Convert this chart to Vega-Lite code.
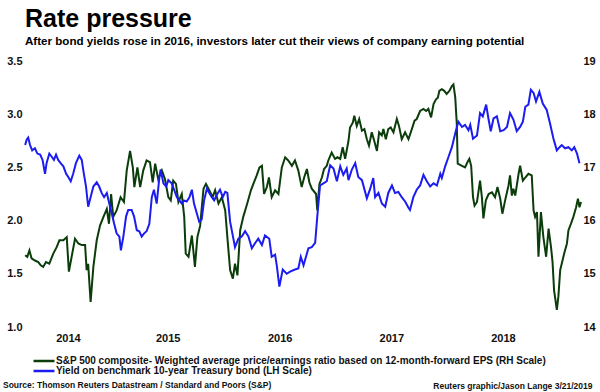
{
  "$schema": "https://vega.github.io/schema/vega-lite/v6.json",
  "width": 558,
  "height": 266,
  "autosize": "none",
  "padding": {"left": 23, "top": 61, "right": 19, "bottom": 65},
  "background": "white",
  "config": {"view": {"stroke": null}, "font": "Liberation Sans"},
  "title": {
    "text": "Rate pressure",
    "subtitle": "After bond yields rose in 2016, investors later cut their views of company earning potential",
    "anchor": "start",
    "frame": "group",
    "font": "Liberation Sans",
    "fontSize": 25,
    "fontWeight": "bold",
    "color": "#000000",
    "subtitleFont": "Liberation Sans",
    "subtitleFontSize": 11.6,
    "subtitleFontWeight": "bold",
    "subtitleColor": "#000000",
    "subtitlePadding": 4,
    "offset": 7,
    "dx": 2
  },
  "datasets": {
    "pe": [
      {"date": "2014-03-23", "value": 15.35}, {"date": "2014-03-30", "value": 15.32}, {"date": "2014-04-06", "value": 15.44},
      {"date": "2014-04-13", "value": 15.29}, {"date": "2014-04-24", "value": 15.25}, {"date": "2014-05-05", "value": 15.22},
      {"date": "2014-05-13", "value": 15.16}, {"date": "2014-05-21", "value": 15.13}, {"date": "2014-05-30", "value": 15.22},
      {"date": "2014-06-10", "value": 15.19}, {"date": "2014-06-23", "value": 15.38}, {"date": "2014-07-04", "value": 15.50},
      {"date": "2014-07-13", "value": 15.63}, {"date": "2014-07-26", "value": 15.63}, {"date": "2014-08-06", "value": 15.69},
      {"date": "2014-08-13", "value": 15.04}, {"date": "2014-08-22", "value": 15.32}, {"date": "2014-09-02", "value": 15.66},
      {"date": "2014-09-13", "value": 15.57}, {"date": "2014-09-24", "value": 15.54}, {"date": "2014-10-05", "value": 15.54},
      {"date": "2014-10-10", "value": 15.07}, {"date": "2014-10-15", "value": 15.19}, {"date": "2014-10-23", "value": 14.47},
      {"date": "2014-11-01", "value": 15.13}, {"date": "2014-11-12", "value": 15.63}, {"date": "2014-11-23", "value": 15.91},
      {"date": "2014-12-04", "value": 16.07}, {"date": "2014-12-15", "value": 16.22}, {"date": "2014-12-22", "value": 15.94},
      {"date": "2014-12-29", "value": 16.50}, {"date": "2015-01-05", "value": 16.07}, {"date": "2015-01-16", "value": 16.19},
      {"date": "2015-01-29", "value": 16.44}, {"date": "2015-02-09", "value": 16.35}, {"date": "2015-02-18", "value": 16.94},
      {"date": "2015-03-01", "value": 17.31}, {"date": "2015-03-10", "value": 17.00}, {"date": "2015-03-15", "value": 16.63},
      {"date": "2015-03-25", "value": 17.00}, {"date": "2015-04-03", "value": 16.63}, {"date": "2015-04-13", "value": 16.94},
      {"date": "2015-04-24", "value": 17.13}, {"date": "2015-05-05", "value": 17.10}, {"date": "2015-05-14", "value": 16.72},
      {"date": "2015-05-22", "value": 17.07}, {"date": "2015-06-01", "value": 16.78}, {"date": "2015-06-13", "value": 16.94},
      {"date": "2015-06-23", "value": 16.78}, {"date": "2015-07-04", "value": 16.44}, {"date": "2015-07-12", "value": 16.38},
      {"date": "2015-07-20", "value": 16.75}, {"date": "2015-07-29", "value": 16.69}, {"date": "2015-08-06", "value": 16.35},
      {"date": "2015-08-17", "value": 16.50}, {"date": "2015-08-25", "value": 16.07}, {"date": "2015-08-30", "value": 15.38},
      {"date": "2015-09-08", "value": 15.32}, {"date": "2015-09-19", "value": 15.72}, {"date": "2015-09-29", "value": 15.13},
      {"date": "2015-10-07", "value": 15.69}, {"date": "2015-10-16", "value": 15.90}, {"date": "2015-10-27", "value": 16.60},
      {"date": "2015-11-04", "value": 16.69}, {"date": "2015-11-15", "value": 16.57}, {"date": "2015-11-26", "value": 16.44},
      {"date": "2015-12-04", "value": 16.57}, {"date": "2015-12-15", "value": 16.32}, {"date": "2015-12-26", "value": 16.44},
      {"date": "2016-01-06", "value": 16.19}, {"date": "2016-01-13", "value": 15.69}, {"date": "2016-01-22", "value": 15.07},
      {"date": "2016-01-31", "value": 14.91}, {"date": "2016-02-07", "value": 15.19}, {"date": "2016-02-15", "value": 14.97},
      {"date": "2016-02-24", "value": 15.82}, {"date": "2016-03-05", "value": 16.07}, {"date": "2016-03-18", "value": 16.32},
      {"date": "2016-03-30", "value": 16.57}, {"date": "2016-04-07", "value": 16.69}, {"date": "2016-04-18", "value": 16.85},
      {"date": "2016-04-27", "value": 17.00}, {"date": "2016-05-05", "value": 17.03}, {"date": "2016-05-12", "value": 16.50},
      {"date": "2016-05-21", "value": 16.63}, {"date": "2016-05-28", "value": 16.81}, {"date": "2016-06-06", "value": 16.44},
      {"date": "2016-06-17", "value": 16.57}, {"date": "2016-06-28", "value": 16.50}, {"date": "2016-07-09", "value": 17.00},
      {"date": "2016-07-20", "value": 17.19}, {"date": "2016-07-30", "value": 17.13}, {"date": "2016-08-11", "value": 17.03},
      {"date": "2016-08-21", "value": 17.13}, {"date": "2016-09-01", "value": 16.94}, {"date": "2016-09-12", "value": 16.63},
      {"date": "2016-09-20", "value": 16.81}, {"date": "2016-09-29", "value": 16.97}, {"date": "2016-10-07", "value": 16.72},
      {"date": "2016-10-15", "value": 16.60}, {"date": "2016-10-29", "value": 16.50}, {"date": "2016-11-02", "value": 16.19},
      {"date": "2016-11-09", "value": 16.69}, {"date": "2016-11-17", "value": 16.81}, {"date": "2016-11-24", "value": 16.97},
      {"date": "2016-12-03", "value": 17.03}, {"date": "2016-12-08", "value": 17.13}, {"date": "2016-12-19", "value": 17.28},
      {"date": "2016-12-30", "value": 17.16}, {"date": "2017-01-07", "value": 17.19}, {"date": "2017-01-16", "value": 17.16},
      {"date": "2017-01-24", "value": 17.38}, {"date": "2017-02-01", "value": 17.16}, {"date": "2017-02-12", "value": 17.50},
      {"date": "2017-02-17", "value": 17.75}, {"date": "2017-02-26", "value": 17.84}, {"date": "2017-03-03", "value": 17.97},
      {"date": "2017-03-11", "value": 17.78}, {"date": "2017-03-19", "value": 17.91}, {"date": "2017-03-28", "value": 17.69},
      {"date": "2017-04-05", "value": 17.72}, {"date": "2017-04-13", "value": 17.53}, {"date": "2017-04-20", "value": 17.41},
      {"date": "2017-04-29", "value": 17.66}, {"date": "2017-05-07", "value": 17.50}, {"date": "2017-05-16", "value": 17.31},
      {"date": "2017-05-23", "value": 17.66}, {"date": "2017-06-01", "value": 17.60}, {"date": "2017-06-06", "value": 17.72},
      {"date": "2017-06-14", "value": 17.53}, {"date": "2017-06-22", "value": 17.72}, {"date": "2017-06-30", "value": 17.75},
      {"date": "2017-07-09", "value": 17.66}, {"date": "2017-07-20", "value": 17.91}, {"date": "2017-07-27", "value": 17.78},
      {"date": "2017-08-05", "value": 17.53}, {"date": "2017-08-16", "value": 17.66}, {"date": "2017-08-27", "value": 17.53},
      {"date": "2017-09-07", "value": 17.72}, {"date": "2017-09-16", "value": 17.88}, {"date": "2017-09-23", "value": 17.91},
      {"date": "2017-10-04", "value": 18.06}, {"date": "2017-10-15", "value": 18.10}, {"date": "2017-10-24", "value": 18.06},
      {"date": "2017-10-31", "value": 18.10}, {"date": "2017-11-09", "value": 17.94}, {"date": "2017-11-17", "value": 18.19},
      {"date": "2017-11-25", "value": 18.28}, {"date": "2017-12-01", "value": 18.31}, {"date": "2017-12-06", "value": 18.44},
      {"date": "2017-12-14", "value": 18.47}, {"date": "2017-12-22", "value": 18.44}, {"date": "2017-12-30", "value": 18.38},
      {"date": "2018-01-08", "value": 18.44}, {"date": "2018-01-16", "value": 18.53}, {"date": "2018-01-21", "value": 18.56},
      {"date": "2018-01-27", "value": 18.31}, {"date": "2018-02-01", "value": 17.81}, {"date": "2018-02-04", "value": 17.07},
      {"date": "2018-02-18", "value": 17.03}, {"date": "2018-02-28", "value": 17.00}, {"date": "2018-03-08", "value": 17.10},
      {"date": "2018-03-14", "value": 17.16}, {"date": "2018-03-20", "value": 17.03}, {"date": "2018-03-26", "value": 16.44},
      {"date": "2018-03-31", "value": 16.28}, {"date": "2018-04-08", "value": 16.35}, {"date": "2018-04-18", "value": 16.75},
      {"date": "2018-04-24", "value": 16.44}, {"date": "2018-04-29", "value": 16.04}, {"date": "2018-05-07", "value": 16.38},
      {"date": "2018-05-16", "value": 16.50}, {"date": "2018-05-27", "value": 16.53}, {"date": "2018-06-06", "value": 16.44},
      {"date": "2018-06-14", "value": 16.63}, {"date": "2018-06-23", "value": 16.41}, {"date": "2018-06-30", "value": 16.13},
      {"date": "2018-07-09", "value": 16.38}, {"date": "2018-07-20", "value": 16.66}, {"date": "2018-07-25", "value": 16.85},
      {"date": "2018-07-31", "value": 16.47}, {"date": "2018-08-05", "value": 16.60}, {"date": "2018-08-11", "value": 16.47},
      {"date": "2018-08-22", "value": 16.88}, {"date": "2018-08-27", "value": 17.03}, {"date": "2018-09-05", "value": 16.75},
      {"date": "2018-09-13", "value": 16.81}, {"date": "2018-09-23", "value": 16.88}, {"date": "2018-10-04", "value": 16.85},
      {"date": "2018-10-10", "value": 16.19}, {"date": "2018-10-15", "value": 16.07}, {"date": "2018-10-21", "value": 16.16},
      {"date": "2018-10-26", "value": 15.32}, {"date": "2018-11-03", "value": 16.16}, {"date": "2018-11-11", "value": 15.69},
      {"date": "2018-11-20", "value": 15.32}, {"date": "2018-11-28", "value": 15.85}, {"date": "2018-12-06", "value": 15.50},
      {"date": "2018-12-11", "value": 15.22}, {"date": "2018-12-16", "value": 14.69}, {"date": "2018-12-25", "value": 14.32},
      {"date": "2018-12-30", "value": 14.57}, {"date": "2019-01-05", "value": 15.07}, {"date": "2019-01-10", "value": 15.19},
      {"date": "2019-01-18", "value": 15.38}, {"date": "2019-01-27", "value": 15.57}, {"date": "2019-02-01", "value": 15.82},
      {"date": "2019-02-09", "value": 15.94}, {"date": "2019-02-17", "value": 16.07}, {"date": "2019-02-26", "value": 16.25},
      {"date": "2019-03-04", "value": 16.41}, {"date": "2019-03-09", "value": 16.25}, {"date": "2019-03-14", "value": 16.35}
    ],
    "yield": [
      {"date": "2014-03-23", "value": 2.71}, {"date": "2014-03-28", "value": 2.76}, {"date": "2014-04-02", "value": 2.78},
      {"date": "2014-04-08", "value": 2.71}, {"date": "2014-04-15", "value": 2.66}, {"date": "2014-04-24", "value": 2.68},
      {"date": "2014-05-02", "value": 2.63}, {"date": "2014-05-11", "value": 2.62}, {"date": "2014-05-19", "value": 2.57},
      {"date": "2014-05-27", "value": 2.44}, {"date": "2014-06-01", "value": 2.54}, {"date": "2014-06-10", "value": 2.63},
      {"date": "2014-06-18", "value": 2.60}, {"date": "2014-06-25", "value": 2.57}, {"date": "2014-07-02", "value": 2.62},
      {"date": "2014-07-09", "value": 2.57}, {"date": "2014-07-17", "value": 2.54}, {"date": "2014-07-26", "value": 2.51},
      {"date": "2014-08-04", "value": 2.44}, {"date": "2014-08-11", "value": 2.41}, {"date": "2014-08-19", "value": 2.37},
      {"date": "2014-08-27", "value": 2.44}, {"date": "2014-09-05", "value": 2.54}, {"date": "2014-09-16", "value": 2.61},
      {"date": "2014-09-24", "value": 2.57}, {"date": "2014-10-01", "value": 2.44}, {"date": "2014-10-08", "value": 2.32},
      {"date": "2014-10-15", "value": 2.13}, {"date": "2014-10-23", "value": 2.22}, {"date": "2014-11-01", "value": 2.32},
      {"date": "2014-11-12", "value": 2.36}, {"date": "2014-11-20", "value": 2.32}, {"date": "2014-11-28", "value": 2.26},
      {"date": "2014-12-06", "value": 2.22}, {"date": "2014-12-15", "value": 2.26}, {"date": "2014-12-23", "value": 2.16},
      {"date": "2014-12-31", "value": 2.07}, {"date": "2015-01-08", "value": 1.97}, {"date": "2015-01-16", "value": 1.88},
      {"date": "2015-01-25", "value": 1.85}, {"date": "2015-01-30", "value": 1.72}, {"date": "2015-02-07", "value": 1.85},
      {"date": "2015-02-16", "value": 2.04}, {"date": "2015-02-23", "value": 2.10}, {"date": "2015-03-06", "value": 2.10},
      {"date": "2015-03-14", "value": 2.04}, {"date": "2015-03-23", "value": 1.91}, {"date": "2015-03-31", "value": 1.90},
      {"date": "2015-04-08", "value": 1.85}, {"date": "2015-04-16", "value": 1.88}, {"date": "2015-04-24", "value": 1.90},
      {"date": "2015-05-03", "value": 1.97}, {"date": "2015-05-11", "value": 2.22}, {"date": "2015-05-18", "value": 2.29},
      {"date": "2015-05-27", "value": 2.16}, {"date": "2015-06-05", "value": 2.41}, {"date": "2015-06-09", "value": 2.48},
      {"date": "2015-06-18", "value": 2.35}, {"date": "2015-06-27", "value": 2.32}, {"date": "2015-07-04", "value": 2.38},
      {"date": "2015-07-15", "value": 2.35}, {"date": "2015-07-23", "value": 2.29}, {"date": "2015-08-01", "value": 2.22},
      {"date": "2015-08-09", "value": 2.19}, {"date": "2015-08-17", "value": 2.16}, {"date": "2015-08-24", "value": 2.19},
      {"date": "2015-09-02", "value": 2.18}, {"date": "2015-09-11", "value": 2.22}, {"date": "2015-09-19", "value": 2.29},
      {"date": "2015-09-26", "value": 2.16}, {"date": "2015-10-05", "value": 2.07}, {"date": "2015-10-13", "value": 1.99},
      {"date": "2015-10-21", "value": 2.01}, {"date": "2015-10-29", "value": 2.19}, {"date": "2015-11-07", "value": 2.30},
      {"date": "2015-11-15", "value": 2.26}, {"date": "2015-11-23", "value": 2.22}, {"date": "2015-12-01", "value": 2.19},
      {"date": "2015-12-09", "value": 2.24}, {"date": "2015-12-20", "value": 2.29}, {"date": "2015-12-29", "value": 2.22},
      {"date": "2016-01-06", "value": 2.27}, {"date": "2016-01-13", "value": 2.26}, {"date": "2016-01-22", "value": 1.99},
      {"date": "2016-02-07", "value": 1.75}, {"date": "2016-02-18", "value": 1.83}, {"date": "2016-02-29", "value": 1.85},
      {"date": "2016-03-11", "value": 1.90}, {"date": "2016-03-22", "value": 1.85}, {"date": "2016-04-02", "value": 1.74},
      {"date": "2016-04-13", "value": 1.79}, {"date": "2016-04-23", "value": 1.83}, {"date": "2016-05-05", "value": 1.77},
      {"date": "2016-05-15", "value": 1.86}, {"date": "2016-05-29", "value": 1.83}, {"date": "2016-06-06", "value": 1.66},
      {"date": "2016-06-17", "value": 1.68}, {"date": "2016-06-23", "value": 1.57}, {"date": "2016-07-01", "value": 1.38},
      {"date": "2016-07-12", "value": 1.54}, {"date": "2016-07-25", "value": 1.50}, {"date": "2016-08-05", "value": 1.52},
      {"date": "2016-08-21", "value": 1.54}, {"date": "2016-09-01", "value": 1.55}, {"date": "2016-09-09", "value": 1.66},
      {"date": "2016-09-18", "value": 1.58}, {"date": "2016-09-26", "value": 1.66}, {"date": "2016-10-04", "value": 1.74},
      {"date": "2016-10-15", "value": 1.75}, {"date": "2016-10-26", "value": 1.79}, {"date": "2016-11-02", "value": 2.04},
      {"date": "2016-11-11", "value": 2.33}, {"date": "2016-11-22", "value": 2.35}, {"date": "2016-12-03", "value": 2.37},
      {"date": "2016-12-14", "value": 2.52}, {"date": "2016-12-25", "value": 2.49}, {"date": "2017-01-05", "value": 2.37},
      {"date": "2017-01-16", "value": 2.51}, {"date": "2017-01-26", "value": 2.43}, {"date": "2017-02-06", "value": 2.49},
      {"date": "2017-02-12", "value": 2.38}, {"date": "2017-02-23", "value": 2.48}, {"date": "2017-03-06", "value": 2.54},
      {"date": "2017-03-16", "value": 2.41}, {"date": "2017-03-28", "value": 2.38}, {"date": "2017-04-13", "value": 2.21},
      {"date": "2017-04-24", "value": 2.30}, {"date": "2017-05-04", "value": 2.40}, {"date": "2017-05-10", "value": 2.22},
      {"date": "2017-05-21", "value": 2.26}, {"date": "2017-06-01", "value": 2.16}, {"date": "2017-06-12", "value": 2.13},
      {"date": "2017-06-22", "value": 2.26}, {"date": "2017-07-04", "value": 2.33}, {"date": "2017-07-14", "value": 2.26},
      {"date": "2017-07-25", "value": 2.27}, {"date": "2017-08-05", "value": 2.22}, {"date": "2017-08-16", "value": 2.18},
      {"date": "2017-08-27", "value": 2.12}, {"date": "2017-09-01", "value": 2.10}, {"date": "2017-09-12", "value": 2.22},
      {"date": "2017-09-23", "value": 2.29}, {"date": "2017-10-04", "value": 2.33}, {"date": "2017-10-15", "value": 2.43},
      {"date": "2017-10-26", "value": 2.37}, {"date": "2017-11-06", "value": 2.32}, {"date": "2017-11-17", "value": 2.35},
      {"date": "2017-11-28", "value": 2.33}, {"date": "2017-12-09", "value": 2.44}, {"date": "2017-12-14", "value": 2.40},
      {"date": "2017-12-25", "value": 2.51}, {"date": "2018-01-05", "value": 2.60}, {"date": "2018-01-16", "value": 2.69},
      {"date": "2018-01-27", "value": 2.82}, {"date": "2018-02-06", "value": 2.93}, {"date": "2018-02-18", "value": 2.88},
      {"date": "2018-02-28", "value": 2.90}, {"date": "2018-03-11", "value": 2.85}, {"date": "2018-03-17", "value": 2.90},
      {"date": "2018-03-26", "value": 2.77}, {"date": "2018-04-08", "value": 2.80}, {"date": "2018-04-18", "value": 3.01},
      {"date": "2018-04-27", "value": 2.98}, {"date": "2018-05-08", "value": 3.09}, {"date": "2018-05-16", "value": 2.95},
      {"date": "2018-05-23", "value": 2.84}, {"date": "2018-06-01", "value": 2.96}, {"date": "2018-06-12", "value": 2.98},
      {"date": "2018-06-23", "value": 2.84}, {"date": "2018-07-04", "value": 2.85}, {"date": "2018-07-15", "value": 2.88},
      {"date": "2018-07-25", "value": 3.01}, {"date": "2018-08-05", "value": 2.95}, {"date": "2018-08-16", "value": 2.84},
      {"date": "2018-08-27", "value": 2.88}, {"date": "2018-09-05", "value": 2.93}, {"date": "2018-09-13", "value": 3.07},
      {"date": "2018-09-23", "value": 3.09}, {"date": "2018-10-01", "value": 3.23}, {"date": "2018-10-10", "value": 3.20},
      {"date": "2018-10-18", "value": 3.12}, {"date": "2018-10-29", "value": 3.21}, {"date": "2018-11-09", "value": 3.10},
      {"date": "2018-11-22", "value": 3.04}, {"date": "2018-12-03", "value": 2.91}, {"date": "2018-12-14", "value": 2.77},
      {"date": "2018-12-25", "value": 2.66}, {"date": "2019-01-03", "value": 2.69}, {"date": "2019-01-10", "value": 2.71},
      {"date": "2019-01-21", "value": 2.68}, {"date": "2019-02-01", "value": 2.69}, {"date": "2019-02-12", "value": 2.66},
      {"date": "2019-02-20", "value": 2.69}, {"date": "2019-03-01", "value": 2.63}, {"date": "2019-03-09", "value": 2.54}
    ]
  },
  "layer": [
    {
      "data": {"name": "pe"},
      "mark": {"type": "line", "strokeWidth": 2},
      "encoding": {
        "x": {
          "field": "date", "type": "temporal",
          "scale": {"domain": [{"year": 2014, "month": 3, "date": 16}, {"year": 2019, "month": 3, "date": 14}]},
          "axis": {
            "values": [{"year": 2014, "month": 8, "date": 10}, {"year": 2015, "month": 7, "date": 2}, {"year": 2016, "month": 7, "date": 2}, {"year": 2017, "month": 7, "date": 2}, {"year": 2018, "month": 7, "date": 2}],
            "format": "%Y", "ticks": false, "domain": false, "grid": false,
            "labelFont": "Liberation Sans", "labelFontSize": 11, "labelFontWeight": "bold", "labelColor": "#111111",
            "labelPadding": 5, "labelFlush": false, "labelOverlap": false,
            "title": "Reuters graphic/Jason Lange 3/21/2019",
            "titleFont": "Liberation Sans", "titleFontSize": 8.5, "titleFontWeight": "bold", "titleColor": "#111111",
            "titleX": 569, "titleY": 58, "titleAlign": "right", "titleBaseline": "middle", "titleAnchor": "end"
          }
        },
        "y": {
          "field": "value", "type": "quantitative",
          "scale": {"domain": [14, 19], "zero": false, "nice": false},
          "axis": {
            "orient": "right", "values": [14, 15, 16, 17, 18, 19], "format": "d",
            "ticks": false, "domain": false, "grid": false, "title": null,
            "labelFont": "Liberation Sans", "labelFontSize": 11, "labelFontWeight": "bold", "labelColor": "#111111",
            "labelPadding": 2, "labelFlush": false
          }
        },
        "color": {
          "datum": "S&P 500 composite- Weighted average price/earnings ratio based on 12-month-forward EPS (RH Scale)",
          "type": "nominal",
          "scale": {
            "domain": ["S&P 500 composite- Weighted average price/earnings ratio based on 12-month-forward EPS (RH Scale)", "Yield on benchmark 10-year Treasury bond (LH Scale)"],
            "range": ["#0b3d0b", "#1c1cf0"]
          },
          "legend": {
            "orient": "none", "legendX": -20, "legendY": 295, "direction": "vertical", "padding": 0,
            "title": "Source: Thomson Reuters Datastream / Standard and Poors (S&P)",
            "titleOrient": "bottom", "titleAnchor": "start", "titleFont": "Liberation Sans", "titleFontSize": 8.5,
            "titleFontWeight": "bold", "titleColor": "#111111", "titleLimit": 600, "titlePadding": 5,
            "symbolType": "M-3,0H3", "symbolSize": 49, "symbolStrokeWidth": 2.5, "symbolOffset": 36,
            "labelOffset": 7, "labelFont": "Liberation Sans", "labelFontSize": 10, "labelFontWeight": "bold",
            "labelColor": "#111111", "labelLimit": 600, "rowPadding": -4
          }
        }
      }
    },
    {
      "data": {"name": "yield"},
      "mark": {"type": "line", "strokeWidth": 2},
      "encoding": {
        "x": {
          "field": "date", "type": "temporal",
          "scale": {"domain": [{"year": 2014, "month": 3, "date": 16}, {"year": 2019, "month": 3, "date": 14}]}
        },
        "y": {
          "field": "value", "type": "quantitative",
          "scale": {"domain": [1, 3.5], "zero": false, "nice": false},
          "axis": {
            "orient": "left", "values": [1, 1.5, 2, 2.5, 3, 3.5], "format": ".1f",
            "ticks": false, "domain": false, "grid": false, "title": null,
            "labelFont": "Liberation Sans", "labelFontSize": 11, "labelFontWeight": "bold", "labelColor": "#111111",
            "labelPadding": 1, "labelFlush": false
          }
        },
        "color": {"datum": "Yield on benchmark 10-year Treasury bond (LH Scale)", "type": "nominal"}
      }
    }
  ],
  "resolve": {"scale": {"y": "independent"}}
}
